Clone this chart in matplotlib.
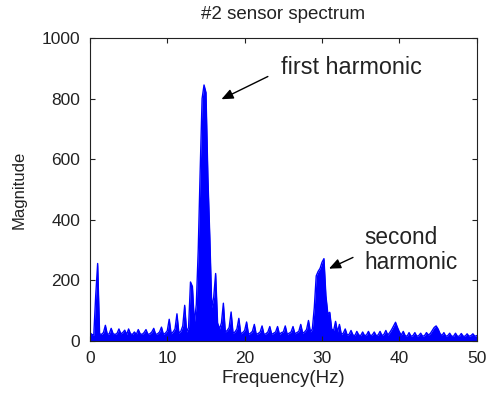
import numpy as np
import matplotlib
matplotlib.use("Agg")
import matplotlib.pyplot as plt

plt.rcParams['font.family'] = ['Liberation Sans', 'DejaVu Sans']

title = "#2 sensor spectrum"
xlabel = "Frequency(Hz)"
ylabel = "Magnitude"
xticks = [0, 10, 20, 30, 40, 50]
yticks = [0, 200, 400, 600, 800, 1000]

# Spectrum magnitude sampled every 0.25 Hz from 0 to 50 Hz
freq_step = 0.25
magnitude = [
    28, 22, 20, 150,   # 0
    256, 24, 22, 28,   # 1
    52, 22, 24, 42,    # 2
    24, 22, 25, 40,    # 3
    24, 28, 36, 22,    # 4
    40, 24, 22, 30,    # 5
    22, 38, 24, 22,    # 6
    28, 38, 22, 24,    # 7
    30, 42, 22, 24,    # 8
    30, 46, 22, 26,    # 9
    34, 72, 24, 30,    # 10
    40, 90, 26, 32,    # 11
    50, 118, 30, 45,   # 12
    195, 180, 60, 120, # 13
    300, 560, 800, 845,  # 14
    820, 540, 340, 110,  # 15
    145, 223, 60, 40,  # 16
    60, 125, 30, 35,   # 17
    45, 96, 26, 30,    # 18
    40, 75, 24, 28,    # 19
    35, 63, 22, 26,    # 20
    32, 55, 22, 25,    # 21
    30, 50, 22, 24,    # 22
    30, 48, 22, 26,    # 23
    30, 48, 22, 28,    # 24
    30, 50, 22, 26,    # 25
    30, 48, 24, 28,    # 26
    32, 55, 26, 30,    # 27
    38, 68, 30, 40,    # 28
    110, 215, 230, 240,  # 29
    260, 272, 150, 90,   # 30
    95, 40, 35, 65,    # 31
    30, 55, 22, 26,    # 32
    40, 20, 22, 35,    # 33
    20, 18, 32, 20,    # 34
    18, 30, 18, 20,    # 35
    32, 18, 20, 30,    # 36
    18, 20, 32, 18,    # 37
    22, 35, 20, 28,    # 38
    38, 50, 62, 45,    # 39
    30, 20, 32, 18,    # 40
    16, 28, 16, 18,    # 41
    28, 16, 18, 26,    # 42
    16, 18, 28, 20,    # 43
    25, 35, 45, 50,    # 44
    40, 25, 18, 28,    # 45
    16, 18, 26, 16,    # 46
    16, 26, 16, 16,    # 47
    25, 16, 16, 24,    # 48
    16, 18, 24, 16,    # 49
    18,                # 50
]

annot1 = "first harmonic"
annot2 = "second\nharmonic"

freq = np.arange(len(magnitude)) * freq_step
mag = np.array(magnitude, dtype=float)

fig = plt.figure(figsize=(4.86, 3.98), dpi=100)
ax = fig.add_axes([0.185, 0.143, 0.796, 0.7615])

blue = (0, 0, 1)
ax.fill_between(freq, mag, 0, color=blue, linewidth=0)
ax.plot(freq, mag, color=blue, lw=1.0)

ax.set_xlim(0, 50)
ax.set_ylim(0, 1000)
ax.set_xticks(xticks)
ax.set_yticks(yticks)
ax.tick_params(direction='in', length=3.5, width=0.8, top=True, right=True,
               labelsize=12.5, colors='#222222')
ax.tick_params(axis='x', pad=7)
ax.tick_params(axis='y', pad=7)
for s in ax.spines.values():
    s.set_linewidth(0.8)
    s.set_color('#222222')

ax.set_title(title, fontsize=13.5, pad=14, color='#222222')
ax.set_xlabel(xlabel, fontsize=13.5, labelpad=3, color='#222222')
ax.set_ylabel(ylabel, fontsize=12, labelpad=11, color='#222222')

arrowprops = dict(arrowstyle='-|>,head_length=0.7,head_width=0.3', color='black', lw=1.0,
                  shrinkA=0, shrinkB=0)
ax.annotate("", xy=(17.0, 798), xytext=(23.0, 873), arrowprops=arrowprops)
ax.annotate("", xy=(30.9, 239), xytext=(34.0, 276), arrowprops=arrowprops)
ax.text(24.7, 902, annot1, fontsize=16.8, va='center', ha='left', color='#222222')
ax.text(35.5, 300, annot2, fontsize=16.3, va='center', ha='left', color='#222222',
        linespacing=1.1)

fig.savefig("out.png", dpi=100)
